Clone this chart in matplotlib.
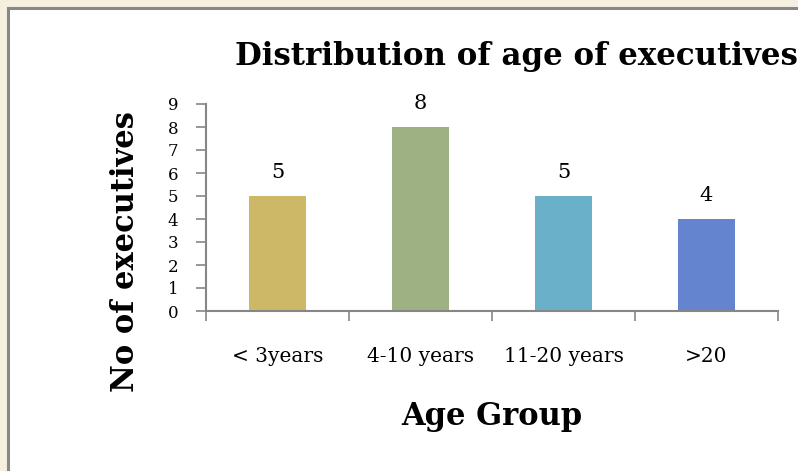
import matplotlib
matplotlib.use("Agg")
import matplotlib.pyplot as plt
from matplotlib.patches import Rectangle

categories = ["< 3years", "4-10 years", "11-20 years", ">20"]
values = [5, 8, 5, 4]
bar_colors = ["#cdb868", "#9eb182", "#6ab0c8", "#6584cf"]
yticks = list(range(0, 10))

W, H = 798, 471
fig = plt.figure(figsize=(W / 100, H / 100), dpi=100)
fig.patch.set_facecolor("#f5efe0")

serif = ["DejaVu Serif"]

# white panel with gray border (top/left)
panel = Rectangle((8 / W, -0.1), 1.2, 1.1 - 8 / H, transform=fig.transFigure,
                  facecolor="white", edgecolor="#878787", linewidth=2.2, zorder=-5)
fig.patches.append(panel)

ax = fig.add_axes([206 / W, 1 - 311 / H, (778 - 206) / W, (311 - 104) / H])
ax.set_zorder(2)
ax.set_facecolor("none")
x = list(range(len(categories)))
bars = ax.bar(x, values, width=0.405, color=bar_colors, zorder=2)
for xi, v in zip(x, values):
    ax.text(xi, v + 0.78, str(v), ha="center", va="baseline", fontsize=15,
            family=serif, color="black")

ax.set_xlim(-0.5, len(categories) - 0.5)
ax.set_ylim(0, 9)
ax.set_yticks(yticks)
ax.set_yticklabels([str(t) for t in yticks], family=serif, fontsize=12)
ax.set_xticks([i - 0.5 for i in range(len(categories) + 1)])
ax.set_xticklabels([])
ax.set_xticks(x, minor=True)
ax.set_xticklabels(categories, minor=True, family=serif, fontsize=14.5)
ax.tick_params(axis="x", which="minor", length=0, pad=26)
ax.tick_params(axis="x", which="major", length=7, width=1.2, color="#868686", direction="out")
ax.tick_params(axis="y", length=7, width=1.2, color="#868686", direction="out", pad=13)

for s in ["top", "right"]:
    ax.spines[s].set_visible(False)
for s in ["left", "bottom"]:
    ax.spines[s].set_color("#868686")
    ax.spines[s].set_linewidth(1.5)
ax.spines["left"].set_bounds(0, 9)

ax.set_xlabel("Age Group", family=serif, fontsize=22, fontweight="bold", labelpad=25)
fig.text(125 / W, 1 - 252 / H, "No of executives", family=serif, fontsize=22,
         fontweight="bold", rotation=90, ha="center", va="center")

fig.text(235 / W, 1 - 57 / H, "Distribution of age of executives", family=serif,
         fontsize=22.2, fontweight="bold", ha="left", va="center")

fig.savefig("out.png", dpi=100, facecolor=fig.get_facecolor())
